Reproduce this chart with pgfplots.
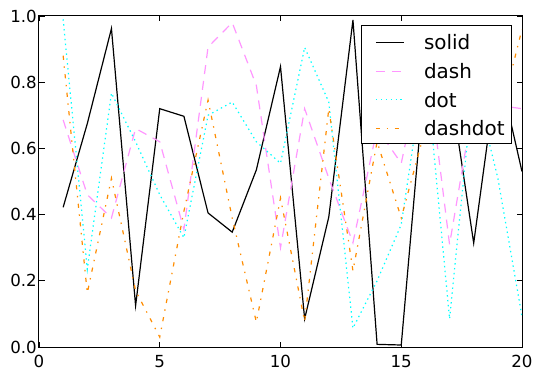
\documentclass[border=0pt]{standalone}
\usepackage{pgfplots}
\pgfplotsset{compat=1.18}
\usepackage{fontspec}
\setmainfont{DejaVu Sans}
\definecolor{cdash}{RGB}{255,150,255}
\definecolor{cdot}{RGB}{0,255,255}
\definecolor{cdd}{RGB}{255,140,0}
\begin{document}
\begin{tikzpicture}
\begin{axis}[name=ax, scale only axis, width=483bp, height=331bp,
 xmin=0,xmax=20,ymin=0,ymax=1,
 xtick={0,5,10,15,20}, ytick={0,0.2,0.4,0.6,0.8,1},
 tick align=inside, tick pos=both, major tick length=5.5bp,
 every tick/.style={black, line width=0.6bp},
 axis line style={line width=1bp},
 /pgf/number format/assume math mode=true,
 yticklabel style={/pgf/number format/fixed, /pgf/number format/fixed zerofill, /pgf/number format/precision=1, inner sep=0pt, anchor=east, xshift=-2bp, font=\fontsize{16.7}{20}\selectfont},
 xticklabel style={inner sep=0pt, anchor=north, yshift=-8bp, font=\fontsize{16.7}{20}\selectfont},
 legend style={at={(0.9793,0.9728)}, anchor=north east, draw=black, line width=0.8bp, fill=white, inner xsep=7bp, inner ysep=8bp, row sep=12.27bp, column sep=19.5bp, font=\fontsize{20}{24}\selectfont, nodes={inner sep=0pt, text height=16.4bp, text depth=0pt}},
 legend cell align=left,
 legend image code/.code={\path (-7bp,0bp); \draw[#1] (0bp,-0.9bp) -- (28bp,-0.9bp);},
]
\addplot[black, line width=1.2bp] coordinates {(1,0.422) (2,0.675) (3,0.962) (4,0.125) (5,0.720) (6,0.697) (7,0.405) (8,0.347) (9,0.535) (10,0.847) (11,0.085) (12,0.393) (13,0.988) (14,0.008) (15,0.006) (16,0.84) (17,0.80) (18,0.314) (19,0.85) (20,0.53)};
\addlegendentry{solid}
\addplot[cdash, line width=1.2bp, dash pattern=on 9bp off 7bp] coordinates {(1,0.686) (2,0.46) (3,0.39) (4,0.66) (5,0.62) (6,0.355) (7,0.906) (8,0.98) (9,0.79) (10,0.30) (11,0.72) (12,0.51) (13,0.315) (14,0.66) (15,0.555) (16,0.90) (17,0.31) (18,0.74) (19,0.73) (20,0.72)};
\addlegendentry{dash}
\addplot[cdot, line width=1.2bp, dash pattern=on 1.4bp off 3.5bp] coordinates {(1,0.99) (2,0.235) (3,0.767) (4,0.62) (5,0.46) (6,0.33) (7,0.70) (8,0.74) (9,0.62) (10,0.555) (11,0.905) (12,0.74) (13,0.057) (14,0.20) (15,0.37) (16,0.86) (17,0.085) (18,0.81) (19,0.51) (20,0.092)};
\addlegendentry{dot}
\addplot[cdd, line width=1.2bp, dash pattern=on 4.2bp off 6.5bp on 1.4bp off 6.5bp] coordinates {(1,0.88) (2,0.163) (3,0.51) (4,0.17) (5,0.03) (6,0.41) (7,0.746) (8,0.39) (9,0.075) (10,0.45) (11,0.077) (12,0.72) (13,0.23) (14,0.62) (15,0.39) (16,0.66) (17,0.72) (18,0.66) (19,0.67) (20,0.96)};
\addlegendentry{dashdot}
\end{axis}
\pgfresetboundingbox
\path ([shift={(-39bp,-30bp)}]ax.south west) rectangle ([shift={(20bp,16bp)}]ax.north east);
\end{tikzpicture}
\end{document}
